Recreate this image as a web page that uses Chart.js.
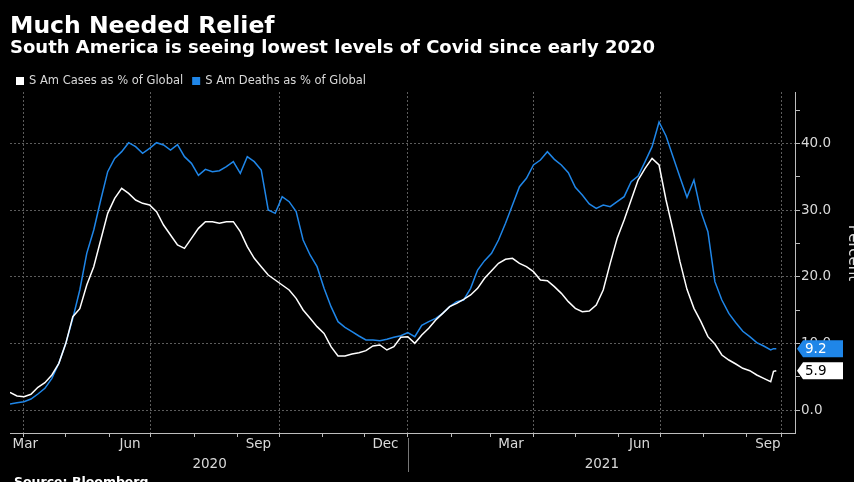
<!DOCTYPE html>
<html>
<head>
<meta charset="utf-8">
<script src="https://cdn.jsdelivr.net/npm/chart.js@4.4.0/dist/chart.umd.min.js"></script>
<style>
  html, body { margin: 0; padding: 0; background: #000; }
  #wrap { width: 854px; height: 482px; }
</style>
</head>
<body>
<div id="wrap"><canvas id="chart" width="854" height="482"></canvas></div>
<script>
// --- data (x = days since 2020-03-22) ---
const days = [
    0, 5, 10, 15, 20, 25, 30, 35, 40, 45, 50, 55, 60, 65, 70, 75, 80, 85, 90, 95,
    100, 105, 110, 115, 120, 125, 130, 135, 140, 145, 150, 155, 160, 165, 170, 175, 180, 185, 190, 195,
    200, 205, 210, 215, 220, 225, 230, 235, 240, 245, 250, 255, 260, 265, 270, 275, 280, 285, 290, 295,
    300, 305, 310, 315, 320, 325, 330, 335, 340, 345, 350, 355, 360, 365, 370, 375, 380, 385, 390, 395,
    400, 405, 410, 415, 420, 425, 430, 435, 440, 445, 450, 455, 460, 465, 470, 475, 480, 485, 490, 495,
    500, 505, 510, 515, 520, 525, 530, 535, 540, 545, 547, 549
];
const casesPct = [
    2.65, 2.1, 2.0, 2.35, 3.4, 4.1, 5.25, 7.0, 10.0, 14.0, 15.2, 18.75, 21.5, 25.5, 29.5, 31.75, 33.25, 32.5, 31.5, 31.0,
    30.75, 29.75, 27.75, 26.25, 24.75, 24.25, 25.75, 27.25, 28.25, 28.25, 28.0, 28.25, 28.25, 26.75, 24.5, 22.75, 21.5, 20.25, 19.5, 18.75,
    18.0, 16.75, 15.0, 13.75, 12.5, 11.5, 9.5, 8.1, 8.1, 8.4, 8.6, 8.9, 9.6, 9.75, 9.0, 9.5, 10.9, 11.0, 10.0, 11.25,
    12.25, 13.5, 14.5, 15.5, 16.0, 16.6, 17.25, 18.25, 19.75, 20.9, 22.0, 22.6, 22.75, 22.0, 21.5, 20.75, 19.5, 19.4, 18.5, 17.5,
    16.25, 15.25, 14.75, 14.85, 15.75, 18.0, 22.0, 25.75, 28.5, 31.5, 34.5, 36.25, 37.75, 36.75, 31.5, 27.0, 22.25, 18.1, 15.25, 13.25,
    11.0, 9.9, 8.25, 7.5, 6.9, 6.25, 5.9, 5.25, 4.75, 4.25, 5.8, 5.9
];
const deathsPct = [
    0.9, 1.1, 1.25, 1.65, 2.4, 3.25, 4.75, 7.0, 10.0, 13.75, 18.0, 23.5, 27.0, 31.5, 35.75, 37.75, 38.75, 40.1, 39.5, 38.5,
    39.25, 40.1, 39.75, 39.0, 39.8, 38.0, 37.0, 35.2, 36.1, 35.75, 35.9, 36.5, 37.25, 35.5, 38.0, 37.25, 36.0, 30.0, 29.5, 32.0,
    31.25, 29.75, 25.5, 23.25, 21.5, 18.25, 15.5, 13.25, 12.4, 11.75, 11.1, 10.5, 10.5, 10.4, 10.6, 10.9, 11.15, 11.6, 11.0, 12.7,
    13.25, 13.75, 14.5, 15.5, 16.25, 16.5, 18.25, 21.0, 22.4, 23.5, 25.5, 28.0, 30.75, 33.5, 34.75, 36.75, 37.5, 38.75, 37.6, 36.75,
    35.6, 33.4, 32.25, 30.9, 30.25, 30.75, 30.5, 31.25, 32.0, 34.25, 35.1, 37.25, 39.5, 43.2, 41.1, 38.0, 34.9, 31.9, 34.5, 29.75,
    26.75, 19.25, 16.5, 14.5, 13.1, 11.8, 11.0, 10.1, 9.6, 9.0, 9.2, 9.2
];

// axis marks (same day units)
const monthStarts = [10, 40, 71, 101, 132, 163, 193, 224, 254, 285, 316, 344, 375, 405, 436, 466, 497, 528, 553];
const gridDays = [10, 101, 193, 285, 375, 466, 553];
const monthLabels = ['Mar', 'Jun', 'Sep', 'Dec', 'Mar', 'Jun', 'Sep'];
const monthLabelDays = [11, 86, 178, 269, 359, 451, 543];
const yearLabels = ['2020', '2021'];
const yearLabelDays = [143, 424];
const yearBreakDay = 285;
const yTicks = [0, 5, 10, 15, 20, 25, 30, 35, 40, 45];

const CASES_COLOR = '#ffffff';
const DEATHS_COLOR = '#1f86e8';
const TEXT_COLOR = '#d9d9d9';
const GRID_COLOR = '#5c5c5c';
const AXIS_COLOR = '#bdbdbd';
const FONT = '"DejaVu Sans", sans-serif';

// titles, legend, month/year labels and end-value tags
const decorPlugin = {
    id: 'decor',
    afterDraw(chart) {
        const ctx = chart.ctx;
        const xs = chart.scales.x;
        const ys = chart.scales.y;
        ctx.save();

        // title + subtitle
        ctx.fillStyle = '#ffffff';
        ctx.textBaseline = 'alphabetic';
        ctx.textAlign = 'left';
        ctx.font = 'bold 23.5px ' + FONT;
        ctx.fillText('Much Needed Relief', 10, 33);
        ctx.font = 'bold 18px ' + FONT;
        ctx.fillText('South America is seeing lowest levels of Covid since early 2020', 10, 53);

        // legend
        ctx.font = '11.5px ' + FONT;
        ctx.textBaseline = 'middle';
        let lx = 16;
        chart.data.datasets.forEach(ds => {
            ctx.fillStyle = ds.borderColor;
            ctx.fillRect(lx, 77, 8, 8);
            ctx.fillStyle = TEXT_COLOR;
            ctx.fillText(ds.label, lx + 13, 81);
            lx += 13 + ctx.measureText(ds.label).width + 9;
        });

        // month labels
        ctx.font = '13.5px ' + FONT;
        ctx.textAlign = 'center';
        ctx.fillStyle = TEXT_COLOR;
        monthLabels.forEach((m, i) => {
            ctx.fillText(m, xs.getPixelForValue(monthLabelDays[i]), 444);
        });
        // year labels + divider
        yearLabels.forEach((y, i) => {
            ctx.fillText(y, xs.getPixelForValue(yearLabelDays[i]), 464);
        });
        const bx = Math.round(xs.getPixelForValue(yearBreakDay)) + 0.5;
        ctx.strokeStyle = '#777';
        ctx.lineWidth = 1;
        ctx.beginPath();
        ctx.moveTo(bx, 438);
        ctx.lineTo(bx, 472);
        ctx.stroke();

        // source
        ctx.textAlign = 'left';
        ctx.textBaseline = 'alphabetic';
        ctx.fillStyle = '#ffffff';
        ctx.font = 'bold 12.5px ' + FONT;
        ctx.fillText('Source: Bloomberg', 14, 486);

        // axis title, partly past the right edge as in the original
        ctx.save();
        ctx.translate(849, 253);
        ctx.rotate(Math.PI / 2);
        ctx.textAlign = 'center';
        ctx.fillStyle = TEXT_COLOR;
        ctx.font = '15px ' + FONT;
        ctx.fillText('Percent', 0, 0);
        ctx.restore();

        // last-value tags
        const tags = [
            { v: deathsPct[deathsPct.length - 1], fill: DEATHS_COLOR, text: '#ffffff' },
            { v: casesPct[casesPct.length - 1], fill: '#ffffff', text: '#000000' }
        ];
        ctx.font = '13.5px ' + FONT;
        ctx.textBaseline = 'middle';
        tags.forEach(t => {
            const y = ys.getPixelForValue(t.v);
            const x0 = xs.right + 2;
            ctx.fillStyle = t.fill;
            ctx.beginPath();
            ctx.moveTo(x0, y);
            ctx.lineTo(x0 + 6, y - 8.5);
            ctx.lineTo(x0 + 46, y - 8.5);
            ctx.lineTo(x0 + 46, y + 8.5);
            ctx.lineTo(x0 + 6, y + 8.5);
            ctx.closePath();
            ctx.fill();
            ctx.fillStyle = t.text;
            ctx.fillText(t.v.toFixed(1), x0 + 8, y + 0.5);
        });

        ctx.restore();
    }
};

const ctx = document.getElementById('chart').getContext('2d');
new Chart(ctx, {
    type: 'line',
    data: {
        datasets: [
            {
                label: 'S Am Cases as % of Global',
                data: days.map((d, i) => ({ x: d, y: casesPct[i] })),
                borderColor: CASES_COLOR,
                borderWidth: 1.5,
                pointRadius: 0,
                tension: 0
            },
            {
                label: 'S Am Deaths as % of Global',
                data: days.map((d, i) => ({ x: d, y: deathsPct[i] })),
                borderColor: DEATHS_COLOR,
                borderWidth: 1.5,
                pointRadius: 0,
                tension: 0
            }
        ]
    },
    options: {
        responsive: false,
        animation: false,
        layout: { padding: { top: 92, left: 10, right: 0, bottom: 0 } },
        plugins: {
            legend: { display: false },
            tooltip: { enabled: false }
        },
        scales: {
            x: {
                type: 'linear',
                min: 0,
                max: 562.4,
                afterBuildTicks: s => { s.ticks = monthStarts.map(v => ({ value: v })); },
                afterFit: s => { s.height = 49; },
                ticks: { display: false, autoSkip: false },
                grid: {
                    color: c => (c.tick && gridDays.includes(c.tick.value)) ? GRID_COLOR : 'transparent',
                    tickColor: AXIS_COLOR,
                    tickLength: 4
                },
                border: { color: AXIS_COLOR, dash: [2, 2] }
            },
            y: {
                position: 'right',
                min: -3.45,
                max: 47.7,
                afterBuildTicks: s => { s.ticks = yTicks.map(v => ({ value: v })); },
                afterFit: s => { s.width = 59; },
                ticks: {
                    color: TEXT_COLOR,
                    font: { family: FONT, size: 13.5 },
                    padding: 1,
                    autoSkip: false,
                    callback: v => (v % 10 === 0 ? v.toFixed(1) : '')
                },
                grid: {
                    color: c => (c.tick && c.tick.value % 10 === 0) ? GRID_COLOR : 'transparent',
                    tickColor: AXIS_COLOR,
                    tickLength: 5
                },
                border: { color: AXIS_COLOR, dash: [2, 2] }
            }
        }
    },
    plugins: [decorPlugin]
});
</script>
</body>
</html>
